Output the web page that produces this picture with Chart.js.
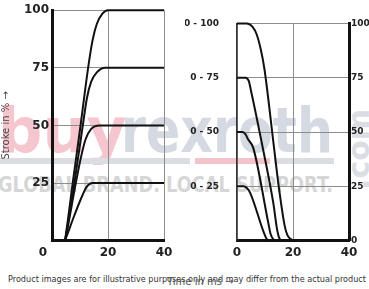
<!DOCTYPE html>
<html>
<head>
<meta charset="utf-8">
<script src="https://cdn.jsdelivr.net/npm/chart.js@4/dist/chart.umd.min.js"></script>
<style>
  html, body { margin: 0; padding: 0; background: #fff; }
  #wrap { position: relative; width: 369px; height: 289px; overflow: hidden; }
  canvas { position: absolute; top: 0; }
  #left { left: 0; }
  #right { left: 185px; }
  .wm { position: absolute; white-space: nowrap; font-family: "DejaVu Sans"; font-weight: bold; line-height: 1; transform-origin: 0 0; }
  #buy { left: -2px; top: 100px; font-size: 62px; color: #f5c6cd; }
  #rex { left: 121px; top: 100px; font-size: 62px; color: #d5dae2; }
  #com { left: 344px; top: 190px; font-size: 30px; color: #dadee4; transform: rotate(-90deg); }
  #slogan { left: -2px; top: 174px; font-size: 22px; color: #d6d6d6; }
  .bar { position: absolute; top: 158px; height: 6px; }
  #note { position: absolute; left: 8px; top: 275px; font: 8px "DejaVu Sans"; color: #333; white-space: nowrap; transform-origin: 0 0; }
  #xtitle { position: absolute; left: 167px; top: 276px; font: 10px "DejaVu Sans"; color: #555; white-space: nowrap; }
</style>
</head>
<body>
<div id="wrap">
  <div class="wm" id="buy">buy</div>
  <div class="wm" id="rex">rexroth</div>
  <div class="wm" id="com">.com</div>
  <div class="bar" style="left:0;width:190px;background:#dadde1"></div>
  <div class="bar" style="left:195px;width:75px;background:#f4c2c9"></div>
  <div class="bar" style="left:274px;width:60px;background:#dadde1"></div>
  <div class="wm" id="slogan">GLOBAL BRAND. LOCAL SUPPORT.</div>
  <canvas id="left" width="185" height="265"></canvas>
  <canvas id="right" width="184" height="265"></canvas>
  <div id="note">Product images are for illustrative purposes only and may differ from the actual product</div>
  <div id="xtitle">Time in ms →</div>
</div>
<script>
// axis ticks
const timeTicks = [0, 20, 40];
const strokeTicks = [25, 50, 75, 100];
const rangeLabels = ["0 - 25", "0 - 50", "0 - 75", "0 - 100"];
const rightTicks = [0, 25, 50, 75, 100];

// opening (left panel), time in ms / stroke in %
const riseT100 = [0, 4.6, 5.0, 7.4, 10.2, 12.9, 14.5, 16, 18, 20, 40];
const riseS100 = [0, 0, 3, 25, 50, 75, 87, 94, 98.5, 100, 100];
const riseT75 = [0, 4.6, 5.0, 8, 11, 12.5, 14, 16, 19, 40];
const riseS75 = [0, 0, 2.5, 25, 50, 62, 69, 73, 75, 75];
const riseT50 = [0, 4.6, 5.0, 8.5, 10.5, 12, 14, 17, 40];
const riseS50 = [0, 0, 2, 25, 37, 44, 48.5, 50, 50];
const riseT25 = [0, 4.6, 5.0, 8, 11, 12.5, 14.5, 40];
const riseS25 = [0, 0, 1.2, 11, 20, 23.5, 25, 25];

// closing (right panel)
const fallT100 = [0, 3.5, 5.5, 7, 8.5, 9.8, 13.2, 15, 17, 18, 19.5, 21, 40];
const fallS100 = [100, 100, 98.5, 95, 88, 79, 43, 24, 7, 2.5, 0.5, 0, 0];
const fallT75 = [0, 3, 4.2, 5, 9, 13, 14.2, 15, 16, 40];
const fallS75 = [75, 75, 73.5, 69, 44, 17, 6, 1.5, 0, 0];
const fallT50 = [0, 2, 3, 4, 5.8, 11.2, 12, 13, 14, 40];
const fallS50 = [50, 50, 49, 46.5, 42.7, 8, 3, 0.5, 0, 0];
const fallT25 = [0, 2.2, 3.5, 4.7, 9.5, 10.5, 11.5, 40];
const fallS25 = [25, 25, 24.2, 22, 4, 1, 0, 0];

Chart.defaults.font.family = "DejaVu Sans";

function series(ts, ss) {
  return {
    data: ts.map((t, i) => ({ x: t, y: ss[i] })),
    borderColor: "#111",
    borderWidth: 2,
    pointRadius: 0,
    cubicInterpolationMode: "monotone",
    clip: false,
  };
}

const tickFont = { size: 12, weight: "bold" };
const smallFont = { size: 9, weight: "bold" };
const gridStyle = { color: "#8c8c8c", lineWidth: 1, drawTicks: false };

const originLabel = {
  id: "originLabel",
  afterDraw(chart) {
    const ctx = chart.ctx;
    const x = chart.scales.x.getPixelForValue(timeTicks[0]) - 9;
    ctx.save();
    ctx.font = "bold 12px DejaVu Sans";
    ctx.fillStyle = "#222";
    ctx.textAlign = "center";
    ctx.textBaseline = "middle";
    ctx.fillText(String(timeTicks[0]), x, chart.chartArea.bottom + 12);
    ctx.restore();
  },
};

new Chart(document.getElementById("left"), {
  type: "line",
  data: {
    datasets: [
      series(riseT100, riseS100),
      series(riseT75, riseS75),
      series(riseT50, riseS50),
      series(riseT25, riseS25),
    ],
  },
  options: {
    responsive: false,
    animation: false,
    devicePixelRatio: 1,
    layout: { padding: { left: 0, right: 21, top: 0, bottom: 0 } },
    plugins: { legend: { display: false }, tooltip: { enabled: false } },
    scales: {
      x: {
        type: "linear",
        min: 0,
        max: 40,
        afterBuildTicks: (s) => { s.ticks = timeTicks.map((v) => ({ value: v })); },
        ticks: {
          callback: (v) => (v === timeTicks[0] ? "" : String(v)),
          font: tickFont,
          color: "#222",
          padding: 5,
          maxRotation: 0,
        },
        grid: gridStyle,
        border: { color: "#111", width: 3 },
      },
      y: {
        min: 0,
        max: 100,
        afterBuildTicks: (s) => { s.ticks = strokeTicks.map((v) => ({ value: v })); },
        afterFit: (s) => { s.width = 52; },
        ticks: { font: tickFont, color: "#222", padding: 3 },
        grid: gridStyle,
        border: { color: "#111", width: 3 },
        title: {
          display: true,
          text: "Stroke in % →",
          font: { size: 10 },
          color: "#444",
          padding: 0,
        },
      },
    },
  },
  plugins: [originLabel],
});

new Chart(document.getElementById("right"), {
  type: "line",
  data: {
    datasets: [
      series(fallT100, fallS100),
      series(fallT75, fallS75),
      series(fallT50, fallS50),
      series(fallT25, fallS25),
    ],
  },
  options: {
    responsive: false,
    animation: false,
    devicePixelRatio: 1,
    layout: { padding: 0 },
    plugins: { legend: { display: false }, tooltip: { enabled: false } },
    scales: {
      x: {
        type: "linear",
        min: 0,
        max: 40,
        afterBuildTicks: (s) => { s.ticks = timeTicks.map((v) => ({ value: v })); },
        ticks: { font: tickFont, color: "#222", padding: 5, maxRotation: 0 },
        grid: gridStyle,
        border: { color: "#111", width: 3 },
      },
      y: {
        min: 0,
        max: 100,
        afterBuildTicks: (s) => { s.ticks = strokeTicks.map((v) => ({ value: v })); },
        afterFit: (s) => { s.width = 52; },
        ticks: {
          callback: (v) => rangeLabels[strokeTicks.indexOf(v)],
          font: smallFont,
          color: "#222",
          padding: 18,
        },
        grid: gridStyle,
        border: { color: "#333", width: 1.5 },
      },
      y2: {
        position: "right",
        min: 0,
        max: 100,
        afterBuildTicks: (s) => { s.ticks = rightTicks.map((v) => ({ value: v })); },
        afterFit: (s) => { s.width = 20; },
        ticks: { font: smallFont, color: "#222", padding: 2 },
        grid: { display: false, drawTicks: false },
        border: { color: "#111", width: 3 },
      },
    },
  },
});

// squeeze the watermark and footnote to their widths in the picture
function fit(id, w) {
  const el = document.getElementById(id);
  const k = w / el.getBoundingClientRect().width;
  el.style.transform = (el.style.transform || "") + " scaleX(" + k + ")";
}
fit("rex", 212);
fit("slogan", 335);
fit("note", 358);
</script>
</body>
</html>
